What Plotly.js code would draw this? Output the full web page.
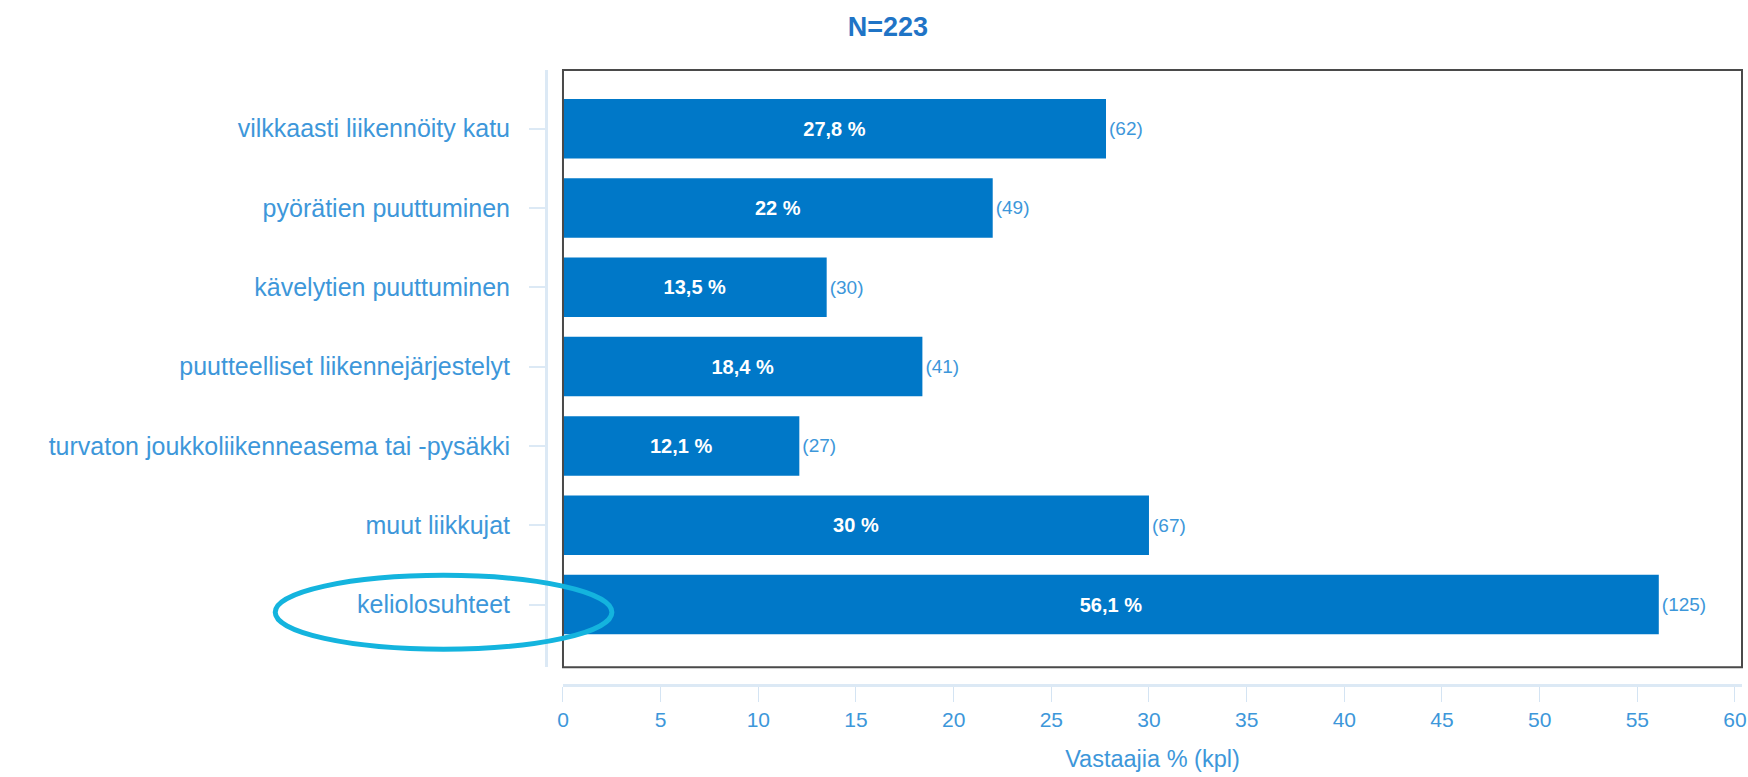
<!DOCTYPE html>
<html>
<head>
<meta charset="utf-8">
<script src="https://cdn.plot.ly/plotly-3.0.1.min.js"></script>
<style>
  body { margin: 0; background: #fff; }
  #plotArea { width: 1748px; height: 777px; }
</style>
</head>
<body>
<div id="plotArea"></div>
<script>
// Categories, top to bottom
var categories = [
    "vilkkaasti liikennöity katu",
    "pyörätien puuttuminen",
    "kävelytien puuttuminen",
    "puutteelliset liikennejärjestelyt",
    "turvaton joukkoliikenneasema tai -pysäkki",
    "muut liikkujat",
    "keliolosuhteet"
];
var percents = [27.8, 22, 13.5, 18.4, 12.1, 30, 56.1];
var counts = [62, 49, 30, 41, 27, 67, 125];
var xTicks = [0, 5, 10, 15, 20, 25, 30, 35, 40, 45, 50, 55, 60];

var pctText = percents.map(p => String(p).replace(".", ",") + " %");
var countText = counts.map(c => "(" + c + ")");

var barColor = "#0078c8";
var labelBlue = "#3d97da";
var fontFam = "Liberation Sans, Arial, sans-serif";

// bars with the percentage inside
var trace1 = {
    type: "bar",
    orientation: "h",
    y: categories,
    x: percents,
    width: 0.75,
    marker: {color: barColor},
    text: pctText,
    textposition: "inside",
    insidetextanchor: "middle",
    textfont: {family: fontFam, size: 20, color: "#ffffff", weight: "bold"},
    hoverinfo: "skip"
};

// invisible copy just to hang the (n) counts after the bar end
var trace2 = {
    type: "bar",
    orientation: "h",
    y: categories,
    x: percents,
    width: 0.75,
    marker: {color: "rgba(0,0,0,0)"},
    text: countText,
    textposition: "outside",
    cliponaxis: false,
    textfont: {family: fontFam, size: 19, color: labelBlue},
    hoverinfo: "skip"
};

var data = [trace1, trace2];

var layout = {
    width: 1748,
    height: 777,
    margin: {l: 546, r: 6, t: 70, b: 92},
    paper_bgcolor: "#ffffff",
    plot_bgcolor: "#ffffff",
    showlegend: false,
    barmode: "overlay",
    font: {family: fontFam, color: labelBlue},
    title: {
        text: "<b>N=223</b>",
        xref: "container", x: 0.508,
        yref: "container", y: 0.966, yanchor: "middle",
        font: {size: 27, color: "#1f74c6"}
    },
    xaxis: {
        domain: [0.0142, 1],
        range: [0, 60.36],
        anchor: "free",
        position: 0,
        tickvals: xTicks,
        ticks: "outside",
        ticklen: 15,
        tickwidth: 1,
        tickcolor: "#d4e4f3",
        showline: true,
        linecolor: "#dce9f5",
        linewidth: 3,
        showgrid: false,
        zeroline: false,
        tickfont: {size: 21, color: labelBlue},
        title: {text: "Vastaajia % (kpl)", standoff: 20, font: {size: 23.5, color: labelBlue}}
    },
    yaxis: {
        domain: [0.029, 1],
        type: "category",
        range: [6.79, -0.74],
        anchor: "free",
        position: 0,
        ticks: "outside",
        ticklen: 16,
        tickwidth: 2,
        tickcolor: "#dce9f5",
        ticklabelstandoff: 14,
        showline: true,
        linecolor: "#dce9f5",
        linewidth: 3,
        showgrid: false,
        zeroline: false,
        tickfont: {size: 25, color: labelBlue}
    },
    shapes: [
        // plot frame
        {
            type: "rect", xref: "x domain", yref: "y domain",
            x0: 0, x1: 1, y0: 0, y1: 1,
            line: {color: "#4a4a4a", width: 2},
            layer: "above"
        },
        // highlight ring round the last category
        {
            type: "circle", xref: "paper", yref: "paper",
            x0: -0.2264, x1: 0.0551, y0: 0.0583, y1: 0.1783,
            line: {color: "#14b4de", width: 5},
            layer: "above"
        }
    ]
};

Plotly.newPlot("plotArea", data, layout, {staticPlot: true});
</script>
</body>
</html>
